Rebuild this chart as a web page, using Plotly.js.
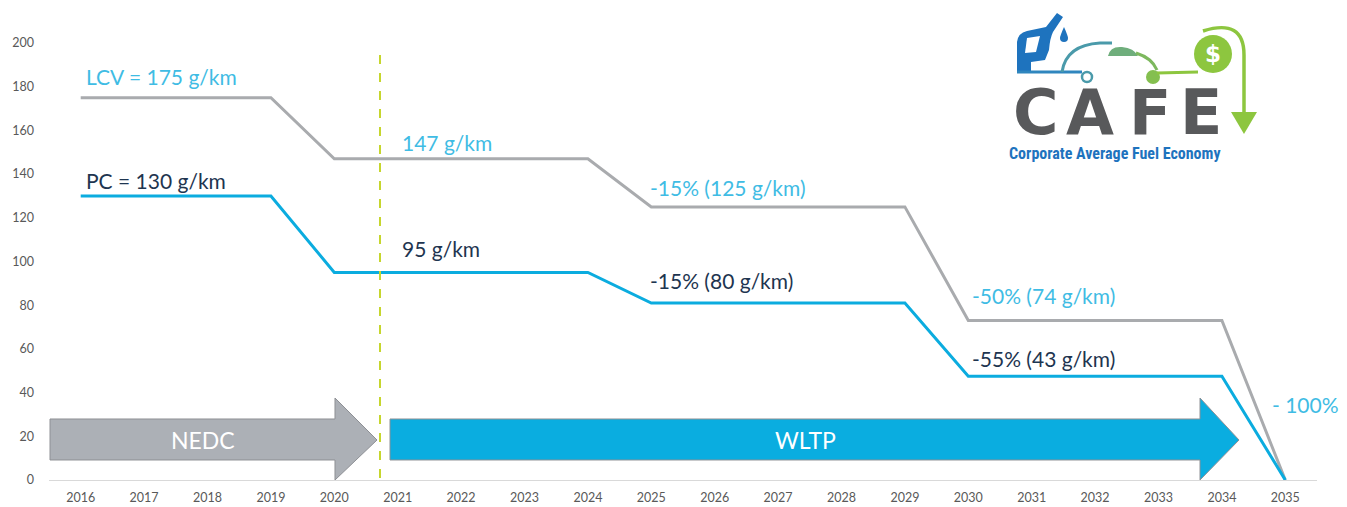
<!DOCTYPE html>
<html><head><meta charset="utf-8">
<script src="https://cdn.plot.ly/plotly-3.0.1.min.js"></script>
<style>html,body{margin:0;padding:0;background:#fff;}#chart{width:1347px;height:507px;}</style>
</head><body><div id="chart"></div>
<script>
// ---- data ----
const years = [2016,2017,2018,2019,2020,2021,2022,2023,2024,2025,2026,2027,2028,2029,2030,2031,2032,2033,2034,2035];
const lcvValues = [175,175,175,175,147,147,147,147,147,125,125,125,125,125,73,73,73,73,73,0];
const pcValues  = [130,130,130,130,95,95,95,95,95,81,81,81,81,81,47.5,47.5,47.5,47.5,47.5,0];
const yTicks = [0,20,40,60,80,100,120,140,160,180,200];
const labelTexts = ["LCV = 175 g/km","147 g/km","-15% (125 g/km)","-50% (74 g/km)","- 100%",
                    "PC = 130 g/km","95 g/km","-15% (80 g/km)","-55% (43 g/km)"];
const phaseNames = ["NEDC","WLTP"];

// ---- geometry helpers (pixel -> paper) ----
const L=49, R=1317, T=43, B=480;
const W=R-L, H=B-T;
const px = x => (x-L)/W;
const py = y => (B-y)/H;
function path(pts, close){
  let s='';
  pts.forEach((p,i)=>{ s += (i? ' L':'M') + px(p[0]).toFixed(5)+','+py(p[1]).toFixed(5); });
  return s + (close?' Z':'');
}
function rawPath(str){
  return str.replace(/(-?\d+\.?\d*),(-?\d+\.?\d*)/g,(m,a,b)=>px(+a).toFixed(5)+','+py(+b).toFixed(5));
}

const CYAN='#0BACDF', GREY='#A9ABAE', CYANTXT='#3FBCE4', DARKTXT='#1E3550';
const FONT='Lato, "Open Sans", sans-serif';

const traces = [
  {x:years, y:lcvValues, type:'scatter', mode:'lines', line:{color:GREY,width:3}, cliponaxis:false, hoverinfo:'skip', showlegend:false},
  {x:years, y:pcValues,  type:'scatter', mode:'lines', line:{color:CYAN,width:3}, cliponaxis:false, hoverinfo:'skip', showlegend:false}
];

const shapes = [];
shapes.push({type:'path', xref:'paper', yref:'paper', layer:'below',
  path: path([[50,419],[335,419],[335,398],[377,440],[335,480],[335,460],[50,460]],true),
  fillcolor:'#ACB0B6', line:{color:'#8E9095',width:1}});
shapes.push({type:'path', xref:'paper', yref:'paper', layer:'below',
  path: path([[390,419],[1200,419],[1200,398],[1239,440],[1200,480],[1200,460],[390,460]],true),
  fillcolor:'#0AADE0', line:{color:'#8E9095',width:1}});
shapes.push({type:'line', xref:'paper', yref:'paper', x0:px(380), x1:px(380), y0:py(55), y1:py(480),
  line:{color:'#C6D62E', width:2, dash:'dash'}});

// ---- logo (decorative shapes) ----
const BLUE='#1E73BE', GREEN='#8DC63F';
shapes.push({type:'path', xref:'paper', yref:'paper',
  path: rawPath('M1017,72 L1017,42 Q1018,33 1027,31 L1046,27 L1057,13 L1063,17 L1053,32 Q1050,38 1049,50 L1045,60 L1031,62 L1031,72 Z'),
  fillcolor:BLUE, line:{width:0}});
shapes.push({type:'path', xref:'paper', yref:'paper',
  path: rawPath('M1027,38 L1040,36 L1036,52 L1025,53 Z'), fillcolor:'#ffffff', line:{width:0}});
shapes.push({type:'path', xref:'paper', yref:'paper',
  path: rawPath('M1064,27 Q1060,36 1060,38 Q1060,42 1064,42 Q1068,42 1068,38 Q1068,36 1064,27 Z'),
  fillcolor:BLUE, line:{width:0}});
shapes.push({type:'path', xref:'paper', yref:'paper',
  path: rawPath('M1017,72 L1082,72'), line:{color:'#2F86BE', width:3}});
shapes.push({type:'path', xref:'paper', yref:'paper',
  path: rawPath('M1062,72 Q1066,45 1100,43 L1112,43'), line:{color:'#4A9AAA', width:3}});
shapes.push({type:'circle', xref:'paper', yref:'paper', x0:px(1082), x1:px(1092), y0:py(72), y1:py(82),
  line:{color:'#4A9AAA', width:2.5}, fillcolor:'#ffffff'});
shapes.push({type:'path', xref:'paper', yref:'paper',
  path: rawPath('M1108,56 Q1110,46 1122,47 Q1134,48 1138,56 Z'), fillcolor:'#6FAE7C', line:{width:0}});
shapes.push({type:'path', xref:'paper', yref:'paper',
  path: rawPath('M1136,53 Q1152,58 1157,70'), line:{color:'#7DB85E', width:3}});
shapes.push({type:'circle', xref:'paper', yref:'paper', x0:px(1146), x1:px(1160), y0:py(70), y1:py(84),
  fillcolor:'#84BF4F', line:{width:0}});
shapes.push({type:'path', xref:'paper', yref:'paper',
  path: rawPath('M1157,73 L1198,72'), line:{color:GREEN, width:3}});
shapes.push({type:'circle', xref:'paper', yref:'paper', x0:px(1194), x1:px(1232), y0:py(35), y1:py(73),
  fillcolor:GREEN, line:{width:0}});
shapes.push({type:'path', xref:'paper', yref:'paper',
  path: rawPath('M1203,31 Q1244,18 1244,55 L1244,113'), line:{color:GREEN, width:3.5}});
shapes.push({type:'path', xref:'paper', yref:'paper',
  path: rawPath('M1231,112 L1257,112 L1244,134 Z'), fillcolor:GREEN, line:{width:0}});

// ---- annotations ----
const ann = [];
function lab(text, x, y, color){
  ann.push({xref:'paper', yref:'paper', x:px(x), y:py(y), xanchor:'left', yanchor:'middle',
    text:text, showarrow:false, font:{family:FONT, size:21, color:color}});
}
lab(labelTexts[0], 84, 77, CYANTXT);
lab(labelTexts[1], 400, 142, CYANTXT);
lab(labelTexts[2], 648, 187, CYANTXT);
lab(labelTexts[3], 970, 295, CYANTXT);
lab(labelTexts[4], 1270, 404, CYANTXT);
lab(labelTexts[5], 84, 180, DARKTXT);
lab(labelTexts[6], 400, 248, DARKTXT);
lab(labelTexts[7], 648, 280, DARKTXT);
lab(labelTexts[8], 970, 358, DARKTXT);

ann.push({xref:'paper', yref:'paper', x:px(203), y:py(440), xanchor:'center', yanchor:'middle', text:phaseNames[0], showarrow:false,
  font:{family:FONT, size:23, color:'#ffffff'}});
ann.push({xref:'paper', yref:'paper', x:px(806), y:py(440), xanchor:'center', yanchor:'middle', text:phaseNames[1], showarrow:false,
  font:{family:FONT, size:23, color:'#ffffff'}});

const cafeLetters = [['C',1036],['A',1090],['F',1150],['E',1201]];
cafeLetters.forEach(([ch,cx])=>{
  ann.push({xref:'paper', yref:'paper', x:px(cx), y:py(112), text:'<b>'+ch+'</b>', showarrow:false,
    xanchor:'center', yanchor:'middle', font:{family:'"DejaVu Sans", sans-serif', size:62, color:'#58595B'}});
});
ann.push({xref:'paper', yref:'paper', x:px(1213), y:py(54), xanchor:'center', yanchor:'middle', text:'<b>$</b>', showarrow:false,
  font:{family:'"DejaVu Sans", sans-serif', size:23, color:'#ffffff'}});
ann.push({xref:'paper', yref:'paper', x:px(1115), y:py(153), text:'<b>Corporate Average Fuel Economy</b>', showarrow:false,
  xanchor:'center', yanchor:'middle', font:{family:'"Liberation Sans Narrow", "Roboto Condensed", "Liberation Sans", sans-serif', size:16, color:BLUE}});

const layout = {
  width:1347, height:507,
  margin:{l:L, r:1347-R, t:T, b:507-B, pad:0},
  paper_bgcolor:'#ffffff', plot_bgcolor:'#ffffff',
  showlegend:false,
  xaxis:{range:[2015.5,2035.5], tickvals:years, ticktext:years.map(String), showgrid:false, zeroline:false,
    showline:false, ticks:'', ticklabelstandoff:8, tickfont:{family:FONT, size:12.5, color:'#595959'}, fixedrange:true},
  yaxis:{range:[0,200], tickvals:yTicks, showgrid:false, zeroline:true, zerolinecolor:'#D9D9D9', zerolinewidth:1,
    showline:false, ticks:'', ticklabelstandoff:14, tickfont:{family:FONT, size:12.5, color:'#595959'}, fixedrange:true},
  shapes:shapes,
  annotations:ann
};
Plotly.newPlot('chart', traces, layout, {displayModeBar:false, staticPlot:true});
</script>
</body></html>
